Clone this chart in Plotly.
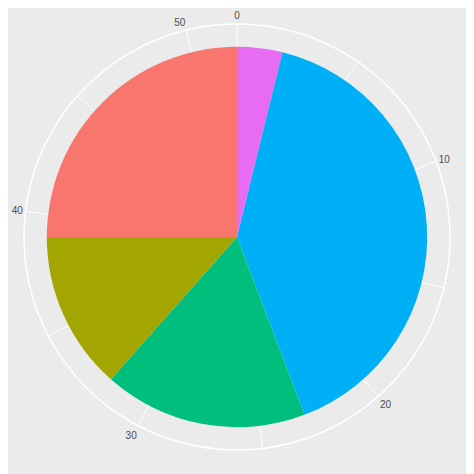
import plotly.graph_objects as go

# slice values in stacking order (clockwise from top)
values = [2, 21, 9, 7, 13]
colors = ['#E76BF3', '#00B0F6', '#00BF7D', '#A3A500', '#F8766D']
total = sum(values)
tick_values = [0, 10, 20, 30, 40, 50]
minor_values = [5, 15, 25, 35, 45]

scale = 360.0 / total
starts = [sum(values[:i]) for i in range(len(values))]
theta = [(s + v / 2) * scale for s, v in zip(starts, values)]
widths = [v * scale for v in values]

fig = go.Figure(go.Barpolar(
    r=[1] * len(values), theta=theta, width=widths,
    marker=dict(color=colors, line=dict(width=0)),
    showlegend=False, hoverinfo='skip'
))

tv = [t * scale for t in tick_values] + [t * scale for t in minor_values]
tt = [str(t) for t in tick_values] + [''] * len(minor_values)

fig.update_layout(
    width=474, height=474,
    paper_bgcolor='#EBEBEB',
    margin=dict(l=16, r=32, t=16, b=32),
    polar=dict(
        bgcolor='#EBEBEB',
        hole=0,
        radialaxis=dict(range=[0, 1.12], showticklabels=False, ticks='',
                        showgrid=False, showline=False),
        angularaxis=dict(rotation=90, direction='clockwise', thetaunit='degrees',
                         tickmode='array', tickvals=tv, ticktext=tt, ticks='',
                         showline=True, linecolor='white', linewidth=1.5,
                         gridcolor='white', gridwidth=1,
                         tickfont=dict(family='Liberation Sans', size=10, color='#4D4D4D'))
    )
)

fig.write_html("out.html")
